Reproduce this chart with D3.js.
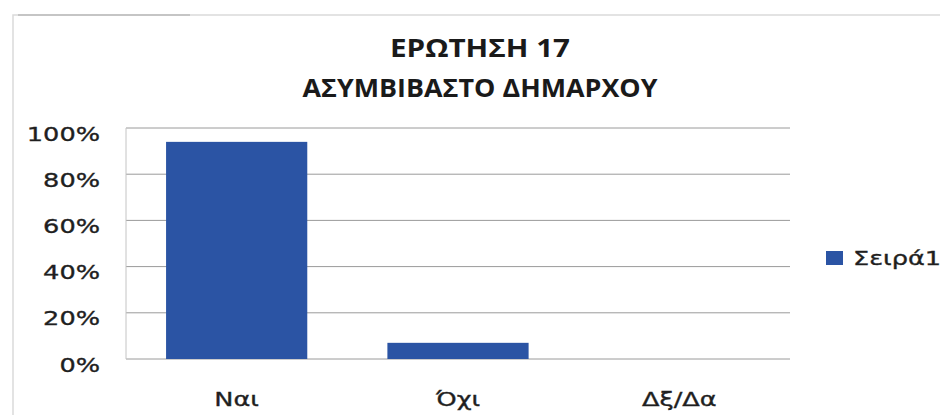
<!DOCTYPE html>
<html><head><meta charset="utf-8">
<script src="https://cdn.jsdelivr.net/npm/d3@7"></script>
<style>body{margin:0;background:#fff}svg{display:block}</style>
</head><body>
<svg id="c" width="940" height="415"></svg>
<script>
const categories = ["Ναι", "Όχι", "Δξ/Δα"];
const values = [94, 7, 0];
const tickValues = [0, 20, 40, 60, 80, 100];
const titleLines = ["ΕΡΩΤΗΣΗ 17", "ΑΣΥΜΒΙΒΑΣΤΟ ΔΗΜΑΡΧΟΥ"];
const seriesName = "Σειρά1";

const svg = d3.select("#c");
const color = "#2b54a4";
const ink = "#1f1f1f";
const STRETCH = 1.28;
function stretch(sel, f) {
  sel.each(function(){
    const w = this.getComputedTextLength();
    d3.select(this).attr("textLength", w * f).attr("lengthAdjust", "spacingAndGlyphs");
  });
}

// frame
svg.append("rect").attr("x",13).attr("y",15).attr("width",940).attr("height",420)
  .attr("fill","none").attr("stroke","#dadada").attr("stroke-width",1.5);
svg.append("line").attr("x1",18).attr("x2",190).attr("y1",15).attr("y2",15).attr("stroke","#bbb").attr("stroke-width",1.5);

const x = d3.scaleBand().domain(categories).range([126, 790]).paddingInner(0.362).paddingOuter(0.181);
const y = d3.scaleLinear().domain([0, 100]).range([359, 128]);

svg.append("g").selectAll("line").data(tickValues).join("line")
  .attr("x1",126).attr("x2",790).attr("y1",d=>y(d)).attr("y2",d=>y(d))
  .attr("stroke","#9a9a9a").attr("stroke-width",1);
svg.append("line").attr("x1",126).attr("x2",126).attr("y1",y(100)).attr("y2",y(0)).attr("stroke","#c4c4c4");

const yAxis = d3.axisLeft(y).tickValues(tickValues).tickFormat(d=>d+"%").tickSize(0).tickPadding(26);
const ya = svg.append("g").attr("transform","translate(126,0)").call(yAxis);
ya.select(".domain").remove();
ya.selectAll("text").attr("font-family","DejaVu Sans").attr("font-size",20).attr("fill",ink)
  .attr("stroke",ink).attr("stroke-width",0.35).attr("dy","12px").call(stretch, STRETCH);

svg.append("g").selectAll("rect").data(values).join("rect")
  .attr("x",(d,i)=>x(categories[i])).attr("width",x.bandwidth())
  .attr("y",d=>y(d)).attr("height",d=>y(0)-y(d)).attr("fill",color);

const xAxis = d3.axisBottom(x).tickSize(0);
const xa = svg.append("g").attr("transform","translate(0,359)").call(xAxis);
xa.select(".domain").remove();
xa.selectAll("text").attr("font-family","DejaVu Sans").attr("font-size",20).attr("fill",ink)
  .attr("stroke",ink).attr("stroke-width",0.35).attr("y",47).attr("dy",0).call(stretch, STRETCH);

const titleWidths = [180, 355];
svg.append("g").selectAll("text").data(titleLines).join("text")
  .attr("x",480).attr("y",(d,i)=>57+i*40).attr("text-anchor","middle")
  .attr("font-family","Open Sans").attr("font-weight","bold").attr("font-size",25).attr("fill","#1a1a1a")
  .attr("textLength",(d,i)=>titleWidths[i]).attr("lengthAdjust","spacingAndGlyphs")
  .text(d=>d);

svg.append("rect").attr("x",826).attr("y",251).attr("width",17).attr("height",14).attr("fill",color);
svg.append("text").attr("x",853).attr("y",265).attr("font-family","DejaVu Sans").attr("font-size",20)
  .attr("fill",ink).attr("stroke",ink).attr("stroke-width",0.35).text(seriesName).call(stretch, STRETCH);
</script>
</body></html>
